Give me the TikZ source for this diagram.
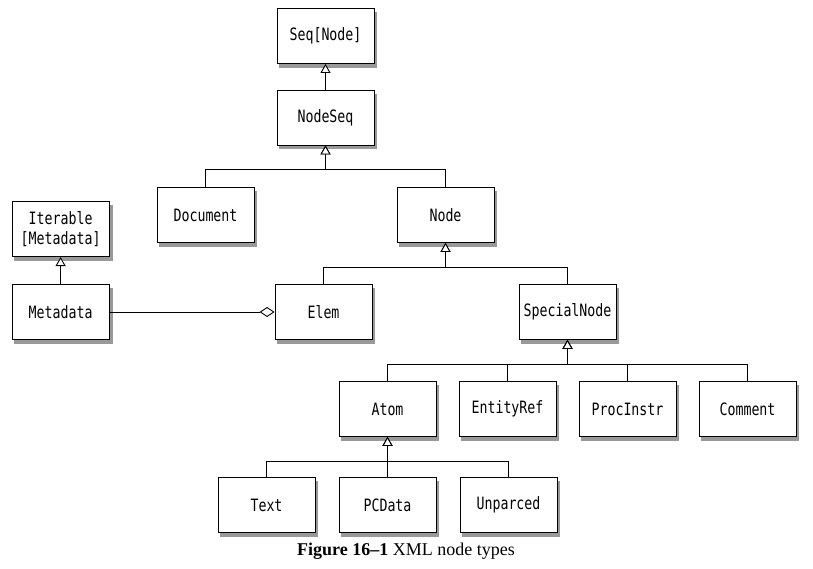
\documentclass[tikz,border=0pt]{standalone}
\usepackage{fontspec}
\setmainfont{Liberation Serif}
\newfontfamily\boxfont[FakeStretch=0.78]{DejaVu Sans Mono}
\usetikzlibrary{arrows.meta,positioning,backgrounds,calc}
\begin{document}
\begin{tikzpicture}[
    classbox/.style={draw,line width=0.9pt,fill=white,minimum width=97pt,minimum height=55pt,
        align=center,font=\boxfont\fontsize{17}{20}\selectfont},
    boxshadow/.style={fill=black!40,draw=none},
    every child node/.style={classbox},
    edge from parent/.style={draw,line width=0.9pt,{Triangle[open,fill=white,length=9pt,width=10pt]}-},
    edge from parent path={(\tikzparentnode.south) -- ++(0,-24pt) -| (\tikzchildnode.north)},
    level 1/.style={level distance=81.5pt},
    level 2/.style={level distance=97.5pt,sibling distance=240pt},
    level 3/.style={level distance=97pt,sibling distance=244pt},
    level 4/.style={level distance=97pt,sibling distance=120pt},
    level 5/.style={level distance=96pt,sibling distance=121pt}]
\useasboundingbox (0pt,0pt) rectangle (813pt,-568pt);
\node[classbox] (seq) at (325.5pt,-36pt) {Seq[Node]}
child {node (nodeseq) {NodeSeq}
    child {node (document) {Document}}
    child {node (node) {Node}
           child {node (elem) {Elem}}
           child {node (special) {SpecialNode}
                  child {node (atom) {Atom}
                         child {node (text) {Text}}
                         child {node (pcdata) {PCData}}
                         child {node (unparced) {Unparced}}
                  }
                  child {node (entityref) {EntityRef}}
                  child {node (procinstr) {ProcInstr}}
                  child {node (comment) {Comment}}
           }
    }
    };
\node[classbox,left=165pt of elem] (metadata) {Metadata};
\node[classbox,above=27pt of metadata] (iterable) {Iterable\\{}[Metadata]};
\draw[line width=0.9pt,-{Triangle[open,fill=white,length=9pt,width=10pt]}] (metadata) -- (iterable);
\draw[line width=0.9pt,{Diamond[open,fill=white,length=15pt,width=10pt]}-] (elem) -- (metadata);
\node[font=\fontsize{18}{21}\selectfont] (caption) at (406pt,-551pt) {\textbf{Figure 16--1} XML node types};
% shadows under the boxes
\begin{pgfonlayer}{background}
\foreach \n in {seq,nodeseq,document,node,elem,special,atom,entityref,procinstr,comment,text,pcdata,unparced,metadata,iterable}
    \path[boxshadow] ($(\n.south west)+(2pt,-4pt)$) rectangle ($(\n.north east)+(3pt,-4pt)$);
\end{pgfonlayer}
\end{tikzpicture}
\end{document}
